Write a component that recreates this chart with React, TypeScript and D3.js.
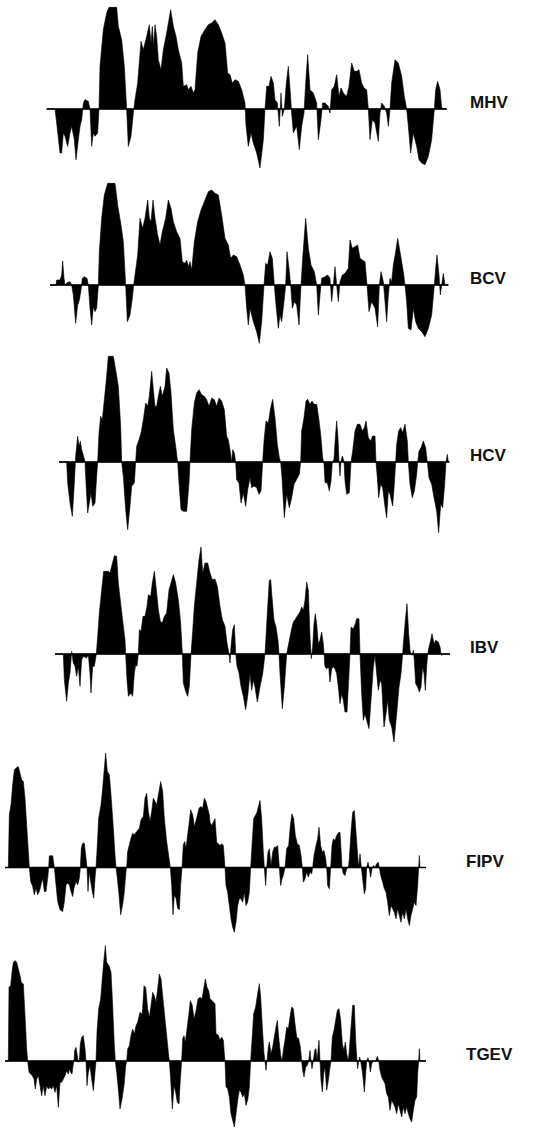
import React from "react";
import * as d3 from "d3";

// hydropathy profiles: [residue position, score]
const mhv: [number, number][] = [
  [5, 0], [30, 0], [35, -42], [45, -132], [50, -132], [55, -72], [60, -82], [68, -112], [75, -72], [80, -52],
  [88, -92], [93, -152], [100, -92], [105, -52], [110, -32], [115, 18], [120, 28], [130, 23], [135, 0], [140, -112],
  [145, -72], [150, -82], [158, -72], [162, 0], [165, 128], [175, 238], [185, 288], [192, 305], [215, 305], [220, 248],
  [230, 208], [238, 128], [245, 0], [250, -112], [258, -82], [265, -12], [270, 28], [278, 78], [288, 203], [295, 178],
  [300, 198], [305, 218], [313, 253], [318, 198], [322, 248], [326, 188], [330, 253], [335, 218], [340, 148], [348, 118],
  [355, 178], [365, 228], [377, 298], [385, 248], [393, 218], [400, 178], [410, 138], [415, 68], [425, 73], [430, 58],
  [438, 68], [445, 48], [450, 58], [458, 168], [468, 218], [480, 238], [490, 253], [500, 258], [510, 268], [520, 253],
  [530, 228], [540, 198], [548, 108], [555, 103], [562, 78], [570, 88], [580, 83], [590, 58], [600, 18], [603, -50],
  [610, -112], [618, -72], [625, -102], [635, -132], [645, -177], [655, -92], [660, 0], [665, 68], [672, 68], [678, 98],
  [685, 78], [690, 28], [697, 18], [703, -52], [708, 48], [712, -22], [718, 0], [724, 78], [730, 128], [736, 48],
  [740, -12], [745, -72], [755, -52], [763, -122], [770, -52], [777, -12], [782, 78], [788, 163], [795, 58], [805, 48],
  [815, 18], [820, -92], [828, -32], [833, 18], [840, 18], [850, 8], [855, -12], [860, 58], [868, 68], [875, 103],
  [882, 38], [888, 63], [895, 48], [905, 38], [912, 68], [920, 138], [928, 113], [935, 113], [942, 118], [950, 78],
  [957, 63], [965, 58], [970, 0], [975, -92], [982, -32], [990, -42], [1000, -97], [1005, -12], [1010, 18], [1018, 8],
  [1025, -12], [1030, -52], [1035, 0], [1040, 78], [1050, 148], [1060, 138], [1070, 98], [1078, 38], [1085, 0], [1090, -52],
  [1097, -132], [1105, -72], [1115, -112], [1122, -152], [1130, -162], [1140, -167], [1150, -142], [1160, -92], [1168, 0], [1172, 58],
  [1178, 83], [1185, 58], [1190, 3], [1205, 0],
];

const bcv: [number, number][] = [
  [15, 0], [33, 0], [35, 15], [45, 15], [50, 30], [53, 72], [57, 20], [60, 0], [68, 8], [75, 10],
  [80, 0], [85, -30], [92, -115], [98, -60], [103, -45], [108, -15], [112, 20], [118, 25], [126, 20], [130, 0],
  [135, -70], [140, -120], [145, -65], [150, -80], [155, -70], [160, 0], [163, 100], [170, 200], [178, 270], [188, 305],
  [210, 305], [218, 240], [228, 180], [235, 130], [242, 0], [247, -110], [255, -90], [262, -40], [266, 0], [270, 30],
  [278, 90], [285, 200], [293, 170], [300, 200], [308, 255], [313, 200], [318, 190], [324, 255], [330, 200], [338, 150],
  [345, 120], [352, 160], [362, 200], [370, 255], [378, 230], [385, 190], [395, 160], [405, 140], [412, 70], [420, 65],
  [425, 75], [430, 55], [435, 70], [440, 45], [448, 130], [458, 190], [468, 225], [478, 250], [490, 280], [500, 285],
  [510, 275], [520, 270], [530, 210], [540, 140], [550, 120], [557, 80], [565, 90], [575, 85], [585, 60], [595, 30],
  [600, 0], [605, -70], [610, -120], [615, -70], [625, -110], [635, -140], [643, -175], [650, -110], [657, 0], [662, 65],
  [668, 60], [675, 100], [682, 80], [688, 0], [692, -50], [700, -130], [705, -90], [710, -110], [717, -50], [722, 0],
  [726, 100], [732, 50], [737, 0], [742, -70], [748, -50], [755, -60], [762, -120], [768, 0], [773, 80], [782, 200],
  [790, 110], [798, 60], [808, 40], [815, 0], [820, -90], [825, -30], [830, 20], [840, 25], [848, 30], [855, 20],
  [860, -50], [865, 0], [870, 55], [875, 0], [880, -50], [885, 10], [892, 30], [900, 35], [910, 50], [915, 135],
  [922, 110], [930, 115], [938, 120], [945, 80], [952, 75], [960, 70], [966, 0], [972, -80], [980, -50], [990, -70],
  [998, -125], [1003, 0], [1008, 40], [1015, 10], [1020, -50], [1025, -110], [1030, -30], [1035, 20], [1040, 10], [1045, 60],
  [1052, 100], [1058, 140], [1065, 100], [1075, 40], [1080, 0], [1085, -50], [1090, -130], [1098, -135], [1105, -70], [1112, -110],
  [1120, -130], [1130, -140], [1140, -155], [1150, -130], [1160, -90], [1168, 0], [1172, 50], [1176, 90], [1182, 30], [1186, -30],
  [1190, 0], [1195, 35], [1200, 0], [1210, 0],
];

const hcv: [number, number][] = [
  [12, 0], [35, 0], [38, -63], [45, -123], [52, -163], [58, -63], [62, 17], [68, 77], [72, 47], [76, 62],
  [80, 37], [86, 17], [90, 0], [93, -63], [98, -153], [103, -123], [108, -93], [113, -133], [120, -123], [125, -43],
  [128, 0], [132, 87], [137, 137], [142, 127], [148, 187], [155, 257], [160, 317], [175, 317], [182, 277], [190, 227],
  [197, 107], [200, 0], [205, -43], [212, -143], [218, -203], [225, -133], [230, -73], [238, -63], [242, 0], [245, 47],
  [252, 67], [258, 87], [265, 127], [272, 177], [278, 167], [283, 197], [290, 272], [295, 217], [300, 167], [305, 167],
  [310, 197], [316, 227], [322, 197], [330, 227], [335, 282], [342, 267], [348, 207], [355, 97], [362, 47], [368, 0],
  [372, -63], [378, -143], [385, -148], [395, -148], [402, -63], [405, 0], [410, 97], [418, 177], [425, 207], [432, 217],
  [440, 202], [448, 197], [455, 187], [462, 167], [470, 192], [478, 187], [485, 167], [492, 192], [500, 182], [508, 157],
  [515, 77], [520, 67], [525, 37], [530, 0], [533, 37], [538, 27], [542, 0], [545, -53], [552, -63], [558, -123],
  [565, -93], [572, -133], [578, -83], [585, -47], [590, -77], [597, -72], [605, -77], [612, -97], [618, -87], [623, 0],
  [627, 63], [633, 123], [640, 118], [647, 163], [653, 188], [660, 133], [667, 53], [673, 13], [677, 0], [681, -47],
  [688, -167], [695, -97], [703, -137], [710, -107], [717, -67], [725, -52], [733, -37], [737, 0], [740, 93], [747, 133],
  [753, 183], [758, 188], [765, 173], [771, 183], [777, 173], [785, 173], [791, 133], [797, 83], [803, 13], [807, -7],
  [810, -62], [817, -62], [823, -87], [828, -57], [832, 0], [837, 8], [841, 73], [845, 123], [849, 73], [852, 0],
  [855, -42], [858, 3], [862, 18], [867, 3], [870, -57], [875, -97], [883, -92], [888, 0], [893, 33], [900, 93],
  [907, 113], [915, 113], [922, 93], [928, 103], [933, 123], [940, 73], [947, 63], [953, 78], [960, 78], [963, 0],
  [967, -47], [971, -107], [977, -67], [983, -77], [989, -127], [995, -167], [1000, -87], [1005, -97], [1013, -132], [1018, -67],
  [1022, 0], [1025, 53], [1031, 93], [1037, 103], [1043, 88], [1050, 113], [1057, 63], [1060, 0], [1065, -67], [1072, -107],
  [1078, -87], [1085, -37], [1088, 0], [1092, 33], [1098, 43], [1105, 63], [1112, 43], [1117, 0], [1122, -47], [1130, -67],
  [1137, -107], [1145, -147], [1151, -212], [1157, -127], [1163, -137], [1169, -67], [1173, 0], [1177, 23], [1180, 0], [1183, 0],
];

const ibv: [number, number][] = [
  [0, 0], [25, 0], [28, -77], [35, -142], [40, -87], [45, -57], [50, 8], [55, -27], [60, -37], [65, -67],
  [70, -37], [75, -97], [80, -17], [85, -7], [95, -12], [100, -2], [105, -57], [108, -117], [113, -37], [118, -37],
  [124, 0], [128, 53], [133, 123], [140, 193], [146, 248], [160, 248], [165, 243], [170, 263], [178, 295], [185, 293],
  [190, 213], [198, 143], [205, 83], [210, 43], [212, 0], [216, -77], [220, -127], [228, -117], [233, -127], [238, -57],
  [242, -32], [246, -37], [250, 0], [253, 73], [258, 68], [264, 113], [270, 113], [276, 143], [280, 178], [287, 173],
  [292, 213], [298, 248], [303, 203], [310, 133], [316, 98], [322, 93], [328, 113], [335, 123], [342, 193], [348, 213],
  [355, 238], [362, 213], [370, 163], [377, 93], [382, 0], [385, -87], [392, -112], [398, -127], [403, -97], [408, 0],
  [412, 53], [418, 143], [425, 213], [432, 283], [438, 321], [443, 243], [450, 273], [458, 273], [465, 243], [472, 223],
  [480, 225], [487, 203], [495, 143], [502, 103], [510, 83], [516, 33], [522, 0], [525, -27], [528, 23], [533, 73],
  [538, 88], [542, 3], [546, -37], [552, -57], [558, -97], [565, -127], [572, -167], [578, -127], [585, -59], [590, -109],
  [595, -79], [600, -99], [607, -144], [615, -99], [623, -59], [630, 0], [633, 51], [638, 141], [643, 221], [647, 223],
  [651, 171], [657, 101], [663, 81], [669, 41], [672, 0], [675, -59], [682, -164], [688, -99], [695, 0], [698, 16],
  [703, 41], [709, 71], [715, 96], [722, 106], [728, 116], [735, 126], [740, 141], [745, 131], [750, 161], [755, 216],
  [760, 191], [765, 51], [769, -14], [773, 21], [777, 91], [781, 121], [785, 91], [790, 31], [795, 41], [800, 66],
  [805, 31], [810, -39], [815, -44], [821, -39], [825, -84], [830, -44], [835, -39], [840, -44], [845, -59], [850, -99],
  [855, -149], [860, -119], [865, -139], [870, -174], [876, -174], [881, -79], [885, 0], [888, 81], [895, 76], [901, 91],
  [905, 106], [912, 106], [915, 0], [920, -119], [925, -199], [930, -179], [935, -199], [942, -224], [948, -139], [955, -39],
  [960, -4], [965, -59], [970, -109], [975, -79], [980, -89], [987, -219], [993, -179], [998, -139], [1003, -199], [1010, -219],
  [1017, -264], [1025, -179], [1032, -99], [1038, -59], [1043, 0], [1045, 31], [1051, 101], [1056, 151], [1061, 61], [1065, 11],
  [1068, 0], [1071, -4], [1075, 11], [1078, -19], [1082, -89], [1088, -99], [1093, -114], [1098, -99], [1103, -39], [1107, -59],
  [1111, -109], [1115, -39], [1118, 0], [1122, 21], [1127, 41], [1131, 61], [1137, 31], [1142, 41], [1150, 36], [1155, 21],
  [1159, -4], [1165, 0], [1185, 0],
];

const fipv: [number, number][] = [
  [15, 0], [25, 0], [28, 158], [33, 188], [38, 248], [43, 293], [50, 300], [55, 303], [60, 283], [65, 263],
  [70, 258], [75, 208], [80, 128], [85, 48], [88, 0], [92, -42], [98, -57], [103, -82], [108, -62], [113, -82],
  [118, -72], [123, -52], [128, -32], [133, -72], [138, -72], [143, -32], [146, 0], [148, 35], [158, 35], [163, 0],
  [168, -52], [173, -102], [180, -127], [188, -132], [193, -102], [198, -52], [203, -47], [208, -52], [213, -72], [218, -87],
  [222, -62], [228, -42], [233, -52], [238, -32], [241, 0], [244, 58], [248, 73], [253, 73], [258, 28], [261, 0],
  [264, -72], [268, -12], [272, -42], [277, -72], [281, -92], [285, -32], [288, 0], [292, 68], [296, 148], [303, 188],
  [308, 238], [313, 298], [317, 343], [322, 288], [328, 278], [333, 218], [340, 118], [345, 38], [348, 0], [352, -32],
  [357, -82], [362, -142], [368, -112], [373, -72], [378, -12], [380, 0], [383, 48], [388, 68], [393, 88], [398, 103],
  [403, 98], [410, 108], [418, 118], [423, 143], [430, 153], [435, 208], [440, 223], [445, 168], [450, 138], [455, 168],
  [460, 208], [465, 198], [470, 188], [477, 228], [482, 258], [488, 228], [493, 148], [500, 78], [507, 28], [511, 0],
  [515, -52], [519, -142], [523, -82], [528, -92], [533, -122], [538, -127], [542, -52], [546, 0], [550, 68], [554, 78],
  [558, 58], [563, 98], [568, 138], [572, 173], [578, 158], [583, 123], [590, 148], [597, 178], [603, 183], [608, 178],
  [613, 208], [618, 198], [623, 178], [628, 158], [630, 136], [635, 126], [640, 136], [645, 146], [650, 76], [655, 71],
  [660, 66], [665, 71], [670, 66], [673, 26], [675, 0], [678, -54], [683, -74], [688, -114], [693, -154], [698, -179],
  [703, -194], [708, -164], [713, -114], [718, -94], [723, -94], [728, -104], [733, -74], [738, -114], [743, -104], [748, -74],
  [752, 0], [756, 66], [761, 146], [766, 156], [771, 166], [776, 186], [780, 201], [785, 146], [790, 46], [793, 0],
  [797, -54], [800, 0], [804, 46], [808, 56], [813, 6], [818, 46], [823, 61], [828, 61], [833, 66], [838, 0],
  [842, -54], [846, -34], [850, -24], [855, 0], [860, 56], [866, 66], [871, 126], [876, 161], [881, 146], [886, 96],
  [892, 71], [898, 66], [903, 36], [907, 0], [910, -44], [915, -34], [920, -14], [925, -29], [930, -14], [935, -19],
  [938, 0], [942, 36], [948, 66], [953, 86], [957, 121], [962, 66], [967, 46], [972, 51], [977, 26], [980, 0],
  [983, -54], [988, -64], [992, 0], [996, 66], [1000, 86], [1005, 81], [1010, 96], [1015, 104], [1020, 106], [1023, 56],
  [1026, 0], [1030, -19], [1035, -24], [1040, -4], [1045, 0], [1048, 26], [1053, 106], [1058, 166], [1063, 171], [1068, 106],
  [1073, 36], [1076, 0], [1080, 41], [1084, 0], [1088, -34], [1093, -79], [1097, -64], [1100, 0], [1104, 16], [1108, -4],
  [1112, -29], [1116, -4], [1120, 6], [1125, 0], [1130, 11], [1135, 16], [1138, 0], [1142, -24], [1148, -44], [1153, -64],
  [1158, -74], [1163, -104], [1168, -144], [1173, -114], [1178, -124], [1183, -134], [1188, -154], [1193, -124], [1198, -144], [1203, -164],
  [1208, -134], [1213, -154], [1218, -124], [1223, -154], [1228, -174], [1233, -144], [1238, -124], [1243, -104], [1248, -114], [1253, -54],
  [1256, 0], [1258, 36], [1260, 0], [1278, 0],
];

const tgev: [number, number][] = [
  [15, 0], [25, 0], [27, 221], [32, 226], [36, 266], [40, 296], [46, 301], [50, 296], [55, 276], [60, 256],
  [64, 236], [70, 231], [75, 136], [80, 36], [83, 0], [87, -34], [92, -39], [97, -44], [102, -54], [106, -84],
  [110, -54], [115, -44], [120, -74], [125, -104], [130, -74], [135, -104], [140, -74], [145, -84], [150, -79], [155, -84],
  [160, -74], [165, -94], [170, -74], [175, -139], [180, -64], [185, -64], [190, -54], [195, -44], [200, -29], [205, -39],
  [208, -24], [212, -34], [216, -39], [219, -14], [222, 0], [224, 31], [228, 41], [232, 16], [235, -4], [238, 0],
  [241, 51], [245, 71], [250, 76], [255, 36], [258, 0], [261, -74], [265, -34], [270, -14], [275, -54], [280, -89],
  [285, -34], [288, 0], [291, 86], [296, 156], [302, 186], [306, 236], [311, 296], [316, 346], [320, 296], [327, 286],
  [333, 266], [338, 166], [343, 46], [346, 0], [350, -34], [355, -84], [360, -144], [366, -114], [372, -74], [377, -14],
  [380, 0], [383, 36], [388, 46], [393, 76], [398, 96], [403, 81], [408, 106], [413, 116], [420, 146], [427, 141],
  [432, 226], [437, 221], [443, 156], [448, 131], [453, 166], [458, 206], [463, 196], [468, 176], [473, 216], [478, 261],
  [483, 246], [488, 196], [493, 146], [498, 96], [505, 26], [508, 0], [512, -54], [517, -144], [522, -74], [527, -94],
  [532, -124], [537, -129], [541, -54], [545, 0], [548, 66], [552, 76], [556, 56], [561, 96], [566, 136], [571, 181],
  [577, 166], [582, 126], [588, 151], [594, 186], [600, 191], [606, 186], [611, 216], [616, 246], [621, 221], [626, 211],
  [630, 187], [635, 182], [640, 177], [645, 172], [648, 82], [655, 77], [660, 62], [665, 72], [670, 62], [673, 22],
  [675, 0], [678, -78], [683, -83], [688, -108], [693, -158], [698, -178], [703, -198], [708, -158], [713, -118], [718, -88],
  [723, -93], [728, -108], [733, -98], [738, -133], [743, -118], [748, -78], [752, 0], [756, 62], [761, 142], [767, 162],
  [773, 202], [778, 232], [782, 192], [787, 102], [792, 22], [795, 0], [798, -28], [801, 0], [805, 42], [808, 57],
  [813, 22], [818, 42], [823, 72], [828, 102], [832, 122], [837, 62], [842, 17], [846, 0], [850, 32], [855, 62],
  [860, 102], [865, 97], [870, 132], [875, 162], [880, 157], [885, 112], [890, 72], [896, 67], [901, 42], [905, 0],
  [908, -28], [912, -48], [917, -18], [922, -13], [926, 0], [930, 32], [933, 0], [936, -23], [940, 0], [944, 32],
  [948, 37], [951, 0], [954, 30], [957, 62], [960, 0], [963, -58], [967, -93], [971, -38], [975, -18], [980, -88],
  [985, -58], [990, -18], [993, 0], [997, 72], [1002, 92], [1007, 122], [1012, 152], [1017, 157], [1022, 122], [1027, 52],
  [1032, 32], [1036, 57], [1040, 22], [1045, 0], [1048, 32], [1053, 102], [1058, 167], [1063, 167], [1067, 62], [1071, 0],
  [1073, -23], [1076, 0], [1079, 12], [1082, 0], [1088, -38], [1093, -93], [1097, -38], [1100, 0], [1104, 10], [1108, -8],
  [1111, -33], [1115, -8], [1120, 0], [1127, 0], [1132, 14], [1136, 0], [1140, -28], [1145, -48], [1150, -58], [1155, -68],
  [1160, -98], [1165, -108], [1170, -148], [1175, -118], [1180, -128], [1185, -138], [1190, -158], [1195, -128], [1200, -148], [1205, -168],
  [1210, -138], [1215, -158], [1220, -138], [1225, -158], [1230, -173], [1235, -183], [1240, -148], [1245, -118], [1250, -108], [1253, -38],
  [1256, 0], [1258, 37], [1260, 0], [1278, 0],
];

const viruses = ["MHV", "BCV", "HCV", "IBV", "FIPV", "TGEV"];
const profiles = [mhv, bcv, hcv, ibv, fipv, tgev];

// panel placement on the page
const panels = [
  { left: 45, base: 109, labelX: 470 },
  { left: 45, base: 285, labelX: 470 },
  { left: 55, base: 462, labelX: 470 },
  { left: 55, base: 654, labelX: 470 },
  { left: 0, base: 867.5, labelX: 466 },
  { left: 0, base: 1061, labelX: 466 },
];

const W = 539;
const H = 1128;

const Profile = ({ data, left, base, labelX, name }: any) => {
  const x = d3.scaleLinear().domain([0, 1200]).range([left, left + 400]);
  const y = d3.scaleLinear().domain([-300, 300]).range([base + 100, base - 100]);
  const area = d3
    .area<[number, number]>()
    .x((d) => x(d[0]))
    .y0(y(0))
    .y1((d) => y(d[1]));
  const first = data[0][0];
  const last = data[data.length - 1][0];
  return (
    <g>
      <path d={area(data) || ""} fill="#000" stroke="#000" strokeWidth={0.6} />
      <line x1={x(first)} x2={x(last)} y1={y(0)} y2={y(0)} stroke="#000" strokeWidth={1.4} />
      <text
        x={labelX}
        y={base - 1}
        fontFamily="'Liberation Sans', Arial, sans-serif"
        fontSize={17}
        fontWeight="bold"
        fill="#111"
      >
        {name}
      </text>
    </g>
  );
};

export default function App() {
  return (
    <svg
      width={W}
      height={H}
      style={{ position: "absolute", left: 0, top: 0, background: "#fff" }}
    >
      {profiles.map((p, i) => (
        <Profile key={viruses[i]} data={p} name={viruses[i]} {...panels[i]} />
      ))}
    </svg>
  );
}
